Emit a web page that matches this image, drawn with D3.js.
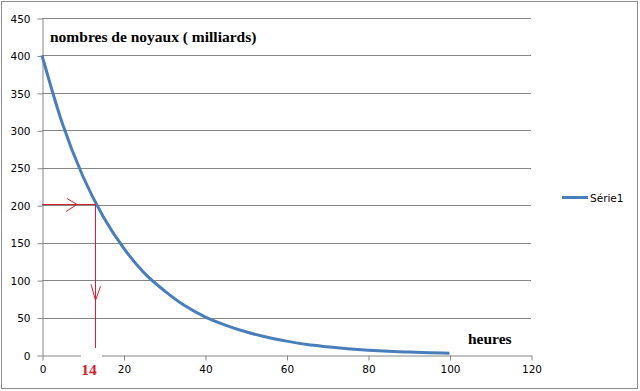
<!DOCTYPE html>
<html>
<head>
<meta charset="utf-8">
<script src="https://cdn.jsdelivr.net/npm/d3@7"></script>
<style>
	body { margin: 0; background: #fff; }
	svg { display: block; }
	.tick-label { font-family: "DejaVu Sans", sans-serif; font-size: 10.5px; fill: #000; }
	.title { font-family: "Liberation Serif", serif; font-weight: bold; font-size: 15.5px; fill: #000; }
</style>
</head>
<body>
<div id="chart"></div>
<script>
//Chart data
	var hours = [0, 5, 10, 15, 20, 25, 30, 35, 40, 45, 50, 55, 60, 65, 70, 75, 80, 85, 90, 95, 100];
	var noyaux = [400, 309, 239, 185, 143, 110, 86, 66, 51, 40, 31, 24, 18.5, 14, 11, 8.5, 6.5, 5, 3.9, 3, 2.4];
	var xTicks = [0, 20, 40, 60, 80, 100, 120];
	var yTicks = [0, 50, 100, 150, 200, 250, 300, 350, 400, 450];
	//hand-drawn half-life marker: label says 14, line drawn at about 13 h
	var halfLifeLabel = "14";
	var markerHour = 13, markerValue = 200;
	var seriesName = "Série1";

//Canvas
	var W = 640, H = 391;
	var svg = d3.select("#chart").append("svg")
		.attr("width", W)
		.attr("height", H);

	//outer frame
	svg.append("rect")
		.attr("x", 1.5).attr("y", 1.5)
		.attr("width", W - 4).attr("height", H - 4)
		.attr("fill", "#fff")
		.attr("stroke", "#8c8c8c");

	//scales
	var x = d3.scaleLinear().domain([0, 120]).range([42, 531]);
	var y = d3.scaleLinear().domain([0, 450]).range([355, 18]);

	//gridlines
	svg.append("g").selectAll("line")
		.data(yTicks.filter(function(d) { return d > 0; }))
		.enter().append("line")
		.attr("x1", x(0)).attr("x2", x(120))
		.attr("y1", function(d) { return Math.round(y(d)) + 0.5; })
		.attr("y2", function(d) { return Math.round(y(d)) + 0.5; })
		.attr("stroke", "#868686");

	//y axis
	var yAxis = d3.axisLeft(y).tickValues(yTicks).tickSize(5).tickSizeOuter(0);
	var gy = svg.append("g")
		.attr("transform", "translate(" + (x(0) + 0.5) + ",0.5)")
		.call(yAxis);
	gy.selectAll("path, line").attr("stroke", "#868686");
	gy.selectAll("text").attr("class", "tick-label").attr("x", -12).attr("dy", "0.35em").style("font", null);

	//x axis
	var xAxis = d3.axisBottom(x).tickValues(xTicks).tickSize(5).tickSizeOuter(0);
	var gx = svg.append("g")
		.attr("transform", "translate(0.5," + (Math.round(y(0)) + 0.5) + ")")
		.call(xAxis);
	gx.selectAll("path, line").attr("stroke", "#868686");
	gx.selectAll("text").attr("class", "tick-label").attr("y", 10).attr("dy", "0.71em").style("font", null);

	//series line
	var line = d3.line()
		.x(function(d, i) { return x(hours[i]); })
		.y(function(d) { return y(d); })
		.curve(d3.curveMonotoneX);

	svg.append("path")
		.datum(noyaux)
		.attr("d", line)
		.attr("fill", "none")
		.attr("stroke", "#4a7ebb")
		.attr("stroke-width", 3);

	//half-life annotation
	var red = "#d4202c";
	var mx = Math.round(x(markerHour)) + 0.5, my = Math.round(y(markerValue)) - 0.5;
	svg.append("line")
		.attr("x1", x(0)).attr("x2", mx)
		.attr("y1", my).attr("y2", my)
		.attr("stroke", red);
	svg.append("line")
		.attr("x1", mx).attr("x2", mx)
		.attr("y1", my).attr("y2", y(0) - 2)
		.attr("stroke", red);
	//arrow heads
	var ax = x(8.6), ay = my;
	svg.append("path")
		.attr("d", "M" + (ax - 10) + "," + (ay - 6) + "L" + ax + "," + ay + "L" + (ax - 11) + "," + (ay + 7))
		.attr("fill", "none").attr("stroke", red);
	var vy = y(73);
	svg.append("path")
		.attr("d", "M" + (mx - 4.5) + "," + (vy - 16) + "L" + mx + "," + vy + "L" + (mx + 5) + "," + (vy - 14))
		.attr("fill", "none").attr("stroke", red);

	//white patch under the 14 label
	svg.append("rect")
		.attr("x", 81).attr("y", 348)
		.attr("width", 21).attr("height", 32)
		.attr("fill", "#fff");
	svg.append("text")
		.attr("x", 89).attr("y", 375)
		.attr("text-anchor", "middle")
		.attr("class", "title")
		.style("fill", red)
		.text(halfLifeLabel);

	//axis titles
	svg.append("text")
		.attr("class", "title")
		.attr("x", 50).attr("y", 42)
		.text("nombres de noyaux ( milliards)");
	svg.append("text")
		.attr("class", "title")
		.attr("x", 468).attr("y", 344)
		.text("heures");

	//legend
	svg.append("line")
		.attr("x1", 562).attr("x2", 588)
		.attr("y1", 197.5).attr("y2", 197.5)
		.attr("stroke", "#4a7ebb")
		.attr("stroke-width", 3);
	svg.append("text")
		.attr("class", "tick-label")
		.attr("x", 590).attr("y", 201.5)
		.text(seriesName);
</script>
</body>
</html>
